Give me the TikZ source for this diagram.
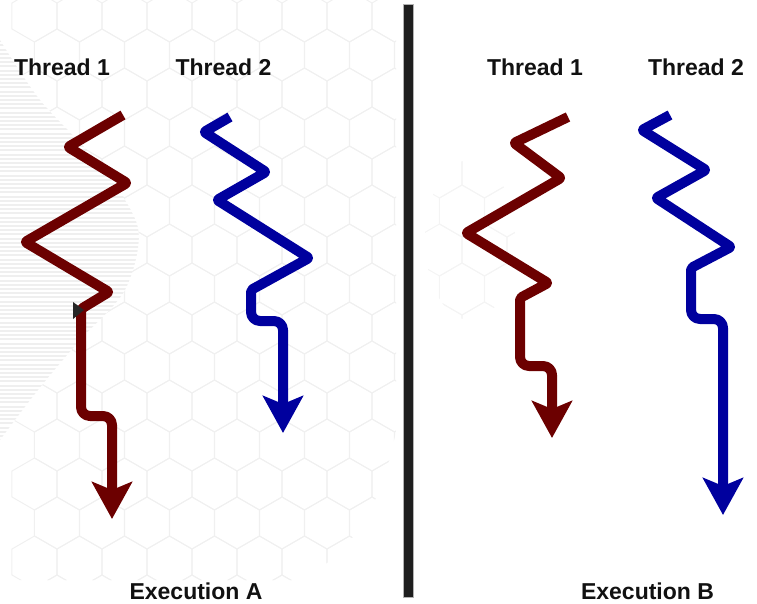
\documentclass[tikz,border=0pt]{standalone}
\usepackage{fontspec}
\setmainfont{Liberation Sans}
\usetikzlibrary{arrows.meta}
\definecolor{thrred}{RGB}{108,0,0}
\definecolor{thrblue}{RGB}{0,0,158}
\definecolor{divider}{RGB}{30,30,30}
\definecolor{hexline}{RGB}{240,240,240}
\definecolor{hexfaint}{RGB}{244,244,244}
\definecolor{stripe}{RGB}{239,239,239}
\tikzset{
  lbl/.style={font=\bfseries\fontsize{23}{27}\selectfont, text={rgb,255:red,17;green,17;blue,17}, inner sep=0pt, anchor=base},
  thread/.style={line width=10pt, line join=round, rounded corners=2pt,
    -{Stealth[length=37pt, width=40pt, inset=8pt]}},
  jog/.style={rounded corners=9pt},
  hexcell/.style={draw=hexline, line width=1pt}
}
\begin{document}
\begin{tikzpicture}[x=1pt,y=-1pt]
\useasboundingbox (0,0) rectangle (757,604);
% faint background hexagons
\begin{scope}
  \clip (0,0) -- (396,0) -- (396,430) .. controls (380,520) and (340,560) .. (300,580) -- (0,580) -- cycle;
  \foreach \j in {0,...,15}{
    \foreach \i in {0,...,9}{
      \pgfmathsetmacro{\cx}{34.5+45*\i+22.5*mod(\j,2)}
      \pgfmathsetmacro{\cy}{16+39*\j}
      \draw[hexcell] (\cx,\cy) +(30:26) -- +(90:26) -- +(150:26) -- +(210:26) -- +(270:26) -- +(330:26) -- cycle;
    }
  }
\end{scope}
\begin{scope}
  \clip (470,240) ellipse (45 and 80);
  \foreach \j in {3,...,8}{
    \foreach \i in {9,...,12}{
      \pgfmathsetmacro{\cx}{34.5+45*\i+22.5*mod(\j,2)}
      \pgfmathsetmacro{\cy}{16+39*\j}
      \draw[hexcell, draw=hexfaint] (\cx,\cy) +(30:26) -- +(90:26) -- +(150:26) -- +(210:26) -- +(270:26) -- +(330:26) -- cycle;
    }
  }
\end{scope}
% faint striped shape
\begin{scope}
  \clip plot[smooth] coordinates {(0,40) (40,100) (100,165) (138,228) (125,290) (80,340) (38,390) (0,440)} -- cycle;
  \foreach \k in {0,...,100}{
    \fill[white] (0,{38+4.2*\k}) rectangle (150,{40.2+4.2*\k});
    \fill[stripe] (0,{40.2+4.2*\k}) rectangle (150,{42.2+4.2*\k});
  }
\end{scope}
% divider
\fill[divider, draw=gray!60, line width=0.8pt] (403.5,4) rectangle (413.5,597);
% labels
\node[lbl] (t1a) at (62,76) {Thread 1};
\node[lbl] (t2a) at (223.5,76) {Thread 2};
\node[lbl] (t1b) at (535,76) {Thread 1};
\node[lbl] (t2b) at (696,76) {Thread 2};
\node[lbl] (exa) at (196,599) {Execution A};
\node[lbl] (exb) at (647.5,599) {Execution B};
% thread 1, execution A
\coordinate (a1s) at (123,115);
\coordinate (a1e) at (112,519);
\draw[thread, thrred] (a1s) -- (68,147) -- (127,183) -- (25,242) -- (109,292)
  -- (81,309) [jog] -- (81,416) -- (112,416) -- (a1e);
\fill[black!85] (73,302) -- (84,310) -- (73,319) -- cycle;
% thread 2, execution A
\coordinate (a2s) at (230,117);
\coordinate (a2e) at (283,433);
\draw[thread, thrblue] (a2s) -- (204,132) -- (266,172) -- (217,200) -- (309,258)
  -- (251,290) [jog] -- (251,321) -- (283,321) -- (a2e);
% thread 1, execution B
\coordinate (b1s) at (568,117);
\coordinate (b1e) at (552,438);
\draw[thread, thrred] (b1s) -- (514,143) -- (561,178) -- (466,233) -- (548,283)
  -- (520,298) [jog] -- (520,366) -- (552,366) -- (b1e);
% thread 2, execution B
\coordinate (b2s) at (670,115);
\coordinate (b2e) at (723,515);
\draw[thread, thrblue] (b2s) -- (642,130) -- (706,170) -- (656,198) -- (731,247)
  -- (691,268) [jog] -- (691,319) -- (723,319) -- (b2e);
\end{tikzpicture}
\end{document}
